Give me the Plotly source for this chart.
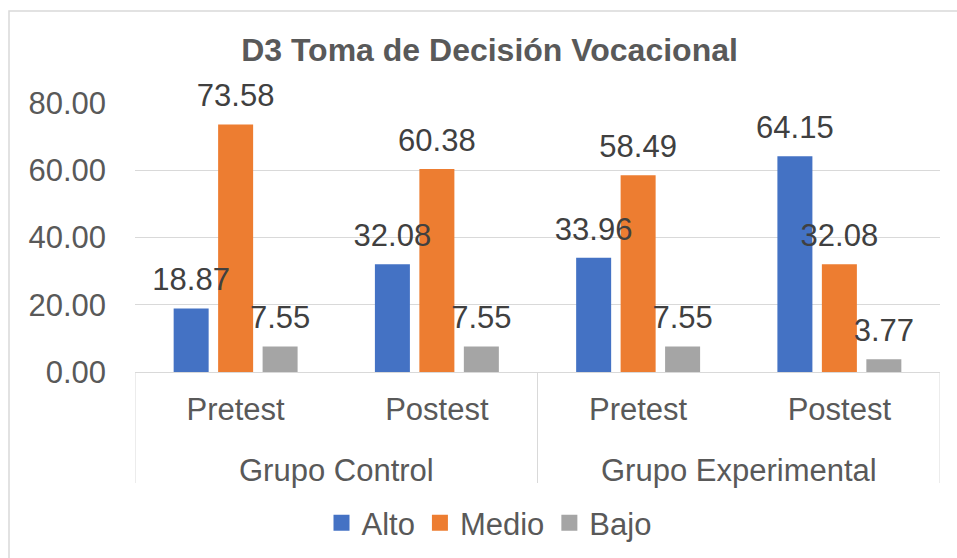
import plotly.graph_objects as go

# ---- data ----
groups = ["Grupo Control", "Grupo Control", "Grupo Experimental", "Grupo Experimental"]
phases = ["Pretest", "Postest", "Pretest", "Postest"]
series_names = ["Alto", "Medio", "Bajo"]
alto = [18.87, 32.08, 33.96, 64.15]
medio = [73.58, 60.38, 58.49, 32.08]
bajo = [7.55, 7.55, 7.55, 3.77]
y_ticks = [0, 20, 40, 60, 80]
title_text = "D3 Toma de Decisión Vocacional"

series_values = [alto, medio, bajo]
colors = ["#4472C4", "#ED7D31", "#A5A5A5"]

FONT = "Liberation Sans, Arial, sans-serif"
GRID = "#D9D9D9"
TXT = "#595959"
LBL = "#404040"
FS = 31

idx = list(range(len(phases)))

fig = go.Figure()
for name, vals, col in zip(series_names, series_values, colors):
    fig.add_trace(go.Bar(
        x=idx, y=vals, name=name, marker=dict(color=col, line=dict(width=0)),
        offsetgroup=name, showlegend=False, hoverinfo="skip",
    ))
for name, vals, col in zip(series_names, series_values, colors):
    fig.add_trace(go.Scatter(
        x=idx, y=vals, mode="markers+text", showlegend=False,
        offsetgroup=name,
        marker=dict(size=15, opacity=0, color=col),
        text=[f"{v:.2f}" for v in vals], textposition="top center",
        textfont=dict(family=FONT, size=FS, color=LBL),
        cliponaxis=False, hoverinfo="skip",
    ))
# legend entries (square swatches)
for name, col in zip(series_names, colors):
    fig.add_trace(go.Scatter(
        x=[None], y=[None], mode="markers", name=name, offsetgroup=name,
        marker=dict(symbol="square", size=16, color=col, line=dict(width=0)),
    ))

# group labels and dividers derived from the data
annotations = []
shapes = []
L, R, T, B = 135, 17, 103, 186
W, H = 957, 558
pw, ph = W - L - R, H - T - B
div_bottom = -(483 - (H - B)) / ph

uniq = []
for g in groups:
    if g not in uniq:
        uniq.append(g)
for g in uniq:
    gi = [i for i, gg in zip(idx, groups) if gg == g]
    annotations.append(dict(
        x=sum(gi) / len(gi), xref="x", y=0, yref="paper", yshift=-98,
        yanchor="middle", xanchor="center", showarrow=False, text=g,
        font=dict(family=FONT, size=FS, color=TXT)))
    shapes.append(dict(type="line", xref="x", yref="paper",
                       x0=min(gi) - 0.5, x1=min(gi) - 0.5, y0=0, y1=div_bottom,
                       line=dict(color=GRID, width=1)))
shapes.append(dict(type="line", xref="x", yref="paper",
                   x0=idx[-1] + 0.5, x1=idx[-1] + 0.5, y0=0, y1=div_bottom,
                   line=dict(color=GRID, width=1)))

# outer chart border
shapes.append(dict(type="rect", xref="paper", yref="paper",
                   x0=(9 - L) / pw, x1=(W + 5 - L) / pw,
                   y0=-(H + 5 - (H - B)) / ph, y1=((H - B) - 11) / ph,
                   line=dict(color=GRID, width=1.5), fillcolor="rgba(0,0,0,0)",
                   layer="below"))

fig.update_layout(
    width=W, height=H,
    margin=dict(l=L, r=R, t=T, b=B, autoexpand=False),
    paper_bgcolor="white", plot_bgcolor="white",
    barmode="group", bargap=0.337, bargroupgap=0.213,
    scattermode="group", scattergap=0.337,
    font=dict(family=FONT, size=FS, color=TXT),
    title=dict(text=title_text, x=489.5 / W, xref="container", xanchor="center",
               y=1 - 50 / H, yref="container", yanchor="middle",
               font=dict(family=FONT, size=32, color=TXT, weight="bold")),
    legend=dict(orientation="h", xref="container", yref="container",
                x=489 / W, xanchor="center", y=1 - 523 / H, yanchor="middle",
                font=dict(family=FONT, size=FS, color=TXT),
                bgcolor="rgba(0,0,0,0)"),
    xaxis=dict(range=[idx[0] - 0.5, idx[-1] + 0.5], tickvals=idx, ticktext=phases,
               showgrid=False, showline=True, linecolor=GRID, linewidth=1,
               zeroline=False, ticks="", ticklabelstandoff=10,
               tickfont=dict(family=FONT, size=FS, color=TXT)),
    yaxis=dict(range=[0, 80], tickvals=y_ticks, tickformat=".2f", showgrid=True,
               gridcolor=GRID, gridwidth=1, zeroline=False, showline=False,
               ticks="", ticklabelstandoff=28,
               tickfont=dict(family=FONT, size=FS, color=TXT)),
    annotations=annotations,
    shapes=shapes,
)

fig.write_html("out.html", config={"displayModeBar": False},
               post_script="document.body.style.margin='0';")
